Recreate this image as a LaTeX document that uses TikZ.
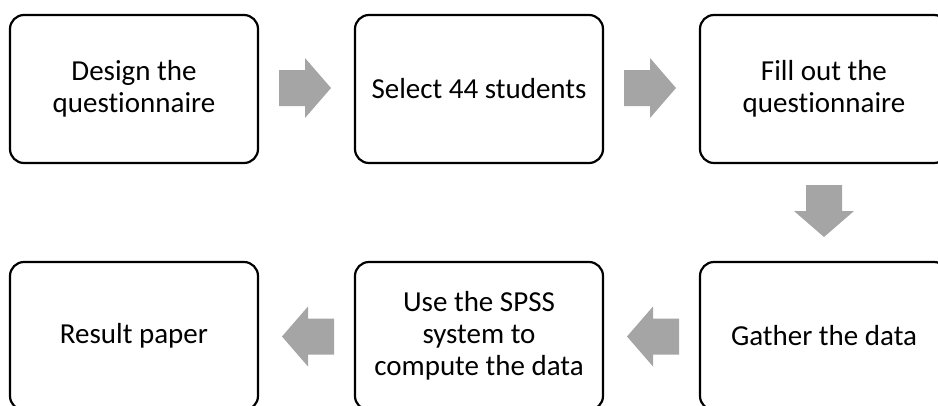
\documentclass[tikz,border=0pt]{standalone}
\usepackage{fontspec}
\setmainfont[Ligatures=NoCommon]{Carlito}
\usetikzlibrary{calc}
\definecolor{arrowgray}{HTML}{A5A5A5}
\tikzset{
  stepbox/.style={draw=black, line width=2.2pt, rounded corners=14pt, fill=white,
    minimum width=248pt, minimum height=148pt, align=center, inner sep=0pt,
    font=\fontsize{29}{32}\selectfont},
  blockarrow/.pic={\fill[arrowgray] (-26pt,-18pt) -- (0pt,-18pt) -- (0pt,-30pt) -- (26pt,0pt) -- (0pt,30pt) -- (0pt,18pt) -- (-26pt,18pt) -- cycle;}
}
\begin{document}
\begin{tikzpicture}[x=1pt,y=1pt]
\useasboundingbox (0,0) rectangle (938,-405);
\clip (0,0) rectangle (938,-405);
\node[stepbox] (b1) at (134,-89) {Design the\\questionnaire};
\node[stepbox] (b2) at (479,-89) {Select 44 students};
\node[stepbox] (b3) at (824,-89) {Fill out the\\questionnaire};
\node[stepbox] (b4) at (824,-336) {Gather the data};
\node[stepbox] (b5) at (479,-336) {Use the SPSS\\system to\\compute the data};
\node[stepbox] (b6) at (134,-336) {Result paper};
\pic at ($(b1.east)!0.5!(b2.west)+(-1.5,1)$) {blockarrow};
\pic at ($(b2.east)!0.5!(b3.west)+(-1.5,1)$) {blockarrow};
\pic[rotate=-90] at ($(b3.south)!0.5!(b4.north)+(0,1.5)$) {blockarrow};
\pic[rotate=180] at ($(b4.west)!0.5!(b5.east)+(1.5,-0.5)$) {blockarrow};
\pic[rotate=180] at ($(b5.west)!0.5!(b6.east)+(1.5,-0.5)$) {blockarrow};
\end{tikzpicture}
\end{document}
